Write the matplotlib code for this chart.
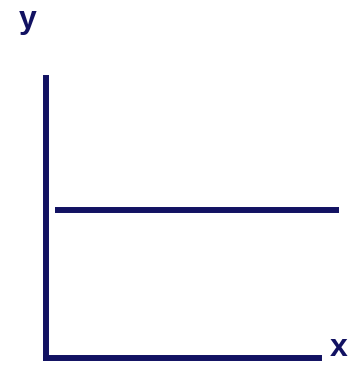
import matplotlib
matplotlib.use("Agg")
import matplotlib.pyplot as plt

# data
line_level = [5.3, 5.3]
line_x = [0.33, 10.72]
axis_labels = ["x", "y"]

navy = "#121262"

fig = plt.figure(figsize=(3.51, 3.65), dpi=100)
ax = fig.add_axes([46 / 351, 7 / 365, 273 / 351, 280 / 365])
ax.set_xlim(0, 10)
ax.set_ylim(0, 10)

for side in ["top", "right"]:
    ax.spines[side].set_visible(False)
for side in ["left", "bottom"]:
    ax.spines[side].set_color(navy)
    ax.spines[side].set_linewidth(4.3)
    ax.spines[side].set_capstyle("projecting")
ax.set_xticks([])
ax.set_yticks([])

ax.plot(line_x, line_level, color=navy, lw=4.3, solid_capstyle="butt", clip_on=False)

fig.text(339 / 351, 1 - 348 / 365, axis_labels[0], ha="center", va="center",
         fontsize=23, fontweight="bold", color=navy, family="Liberation Sans")
fig.text(28 / 351, 1 - 20 / 365, axis_labels[1], ha="center", va="center",
         fontsize=23, fontweight="bold", color=navy, family="Liberation Sans")

fig.savefig("out.png", dpi=100)
